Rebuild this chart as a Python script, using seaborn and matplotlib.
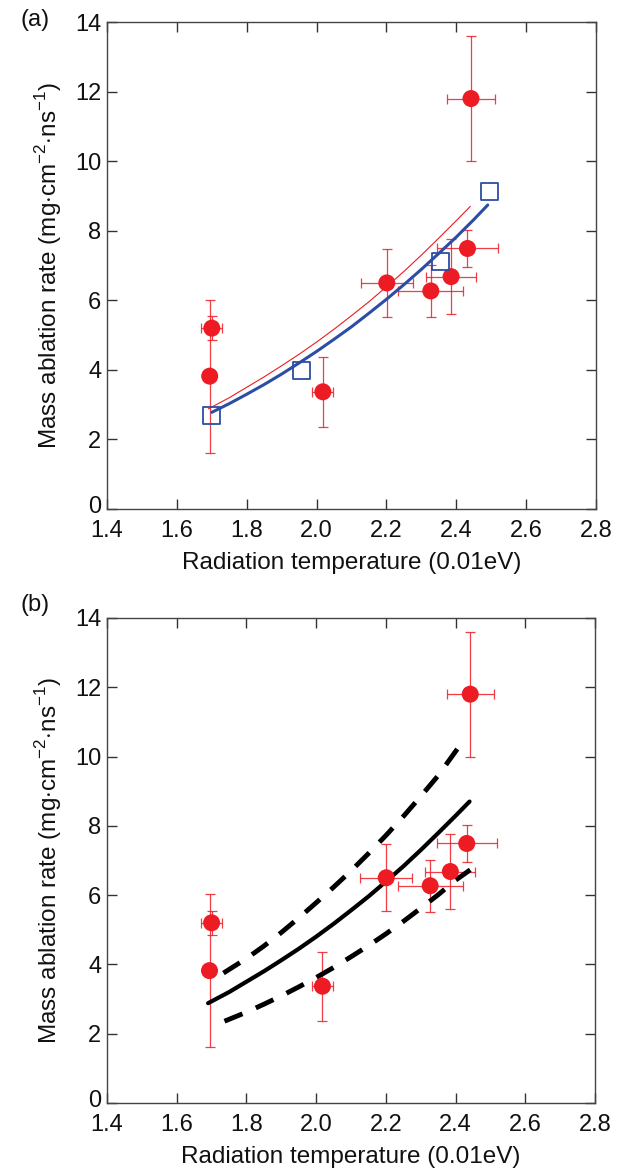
import matplotlib
matplotlib.use("Agg")
import matplotlib.pyplot as plt
import matplotlib.transforms as mtransforms
import numpy as np
import seaborn as sns
import pandas as pd

# ===== donnees =====
# mesures (points rouges avec barres d'erreur)
temp_meas = [1.694, 1.700, 2.018, 2.201, 2.327, 2.385, 2.432, 2.442]
rate_meas = [3.82, 5.20, 3.37, 6.50, 6.27, 6.68, 7.49, 11.80]
rate_err = [2.20, 0.35, 1.00, 0.97, 0.75, 1.08, 0.53, 1.80]
temp_err = [0.0, 0.03, 0.03, 0.075, 0.093, 0.072, 0.086, 0.068]

# simulations (carres bleus)
temp_sim = [1.699, 1.958, 2.354, 2.494]
rate_sim = [2.68, 3.99, 7.11, 9.14]

# courbe ajustee sur les simulations (bleu)
temp_fit_sim = [1.70, 1.75, 1.80, 1.85, 1.90, 1.95, 2.00, 2.05, 2.10, 2.15,
                2.20, 2.25, 2.30, 2.35, 2.40, 2.45, 2.49]
rate_fit_sim = [2.78, 3.03, 3.30, 3.58, 3.88, 4.20, 4.53, 4.88, 5.24, 5.63,
                6.03, 6.45, 6.89, 7.35, 7.82, 8.32, 8.74]

# courbe ajustee sur les mesures (rouge en (a), noire en (b))
temp_fit = [1.69, 1.75, 1.80, 1.85, 1.90, 1.95, 2.00, 2.05, 2.10, 2.15,
            2.20, 2.25, 2.30, 2.35, 2.40, 2.44]
rate_fit = [2.88, 3.20, 3.50, 3.80, 4.12, 4.45, 4.80, 5.17, 5.56, 5.96,
            6.39, 6.83, 7.30, 7.79, 8.29, 8.70]

# bornes de confiance (pointilles en (b))
temp_up = [1.734, 1.80, 1.85, 1.90, 1.95, 2.00, 2.05, 2.10, 2.15, 2.20,
           2.25, 2.30, 2.35, 2.418]
rate_up = [3.75, 4.17, 4.53, 4.92, 5.34, 5.78, 6.23, 6.70, 7.20, 7.72,
           8.27, 8.85, 9.45, 10.40]
temp_low = [1.737, 1.80, 1.85, 1.90, 1.95, 2.00, 2.05, 2.10, 2.15, 2.20,
            2.25, 2.30, 2.35, 2.40, 2.442]
rate_low = [2.36, 2.62, 2.85, 3.09, 3.35, 3.62, 3.91, 4.22, 4.54, 4.88,
            5.24, 5.62, 6.01, 6.43, 6.73]

xticks = [1.4, 1.6, 1.8, 2.0, 2.2, 2.4, 2.6, 2.8]
yticks = [0, 2, 4, 6, 8, 10, 12, 14]

meas = pd.DataFrame({'T': temp_meas, 'rate': rate_meas})
sim = pd.DataFrame({'T': temp_sim, 'rate': rate_sim})
fit_sim = pd.DataFrame({'T': temp_fit_sim, 'rate': rate_fit_sim})
fit = pd.DataFrame({'T': temp_fit, 'rate': rate_fit})
up = pd.DataFrame({'T': temp_up, 'rate': rate_up})
low = pd.DataFrame({'T': temp_low, 'rate': rate_low})

sns.set_style("ticks")
plt.rcParams['font.family'] = ['Liberation Sans', 'DejaVu Sans']
plt.rcParams['mathtext.fontset'] = 'custom'
plt.rcParams['mathtext.rm'] = 'Liberation Sans'

RED = '#ED1C24'
BLUE = '#2B4DA3'

fig = plt.figure(figsize=(6.31, 11.71), dpi=100)
ax_a = fig.add_axes([0.1696, 0.5653, 0.775, 0.4159])
ax_b = fig.add_axes([0.1696, 0.0581, 0.7734, 0.4142])


def draw_measures(ax):
    ax.errorbar(meas['T'], meas['rate'], yerr=rate_err, xerr=temp_err, fmt='none',
                ecolor=RED, elinewidth=0.9, capsize=3.5, capthick=0.9, alpha=0.85, zorder=2)
    sns.scatterplot(x='T', y='rate', data=meas, ax=ax, color=RED, s=150,
                    edgecolor='none', zorder=4, legend=False)


def style_axes(ax):
    ax.set_xlim(1.4, 2.8)
    ax.set_ylim(0, 14)
    ax.set_xticks(xticks)
    ax.set_xticklabels(['%.1f' % t for t in xticks])
    ax.set_yticks(yticks)
    ax.tick_params(direction='in', length=7, width=1, colors='#333333',
                   labelcolor='#111111', labelsize=17, top=True, right=True)
    ax.tick_params(axis='x', pad=8)
    ax.tick_params(axis='y', pad=4)
    for s in ax.spines.values():
        s.set_color('#444444')
        s.set_linewidth(1.0)
    ax.set_xlabel('Radiation temperature (0.01eV)', fontsize=17.5, labelpad=7,
                  color='#111111')
    ax.set_ylabel(r'Mass ablation rate (mg$\cdot$cm$^{-2}$$\cdot$ns$^{-1}$)', fontsize=17.5,
                  labelpad=8, color='#111111')
    # petit decalage du "0" pour ne pas toucher le "1.4"
    lab0 = ax.get_yticklabels()[0]
    lab0.set_transform(lab0.get_transform() +
                       mtransforms.ScaledTranslation(0, 3 / 72, fig.dpi_scale_trans))


# ===== (a) =====
draw_measures(ax_a)
sns.lineplot(x='T', y='rate', data=fit, ax=ax_a, color=RED, linewidth=0.8, zorder=3)
sns.lineplot(x='T', y='rate', data=fit_sim, ax=ax_a, color=BLUE, linewidth=2.2, zorder=3)
sns.scatterplot(x='T', y='rate', data=sim, ax=ax_a, marker='s', s=150,
                facecolor='none', edgecolor=BLUE, linewidth=1.3, zorder=5, legend=False)
style_axes(ax_a)
fig.text(0.032, 0.983, '(a)', fontsize=17, va='center', color='#111111')

# ===== (b) =====
draw_measures(ax_b)
sns.lineplot(x='T', y='rate', data=fit, ax=ax_b, color='black', linewidth=3, zorder=3)
sns.lineplot(x='T', y='rate', data=up, ax=ax_b, color='black', linewidth=3.5,
             zorder=3).lines[-1].set_dashes([4, 3])
sns.lineplot(x='T', y='rate', data=low, ax=ax_b, color='black', linewidth=3.5,
             zorder=3).lines[-1].set_dashes([4, 3])
style_axes(ax_b)
fig.text(0.032, 0.483, '(b)', fontsize=17, va='center', color='#111111')

plt.savefig("out.png", dpi=100)
